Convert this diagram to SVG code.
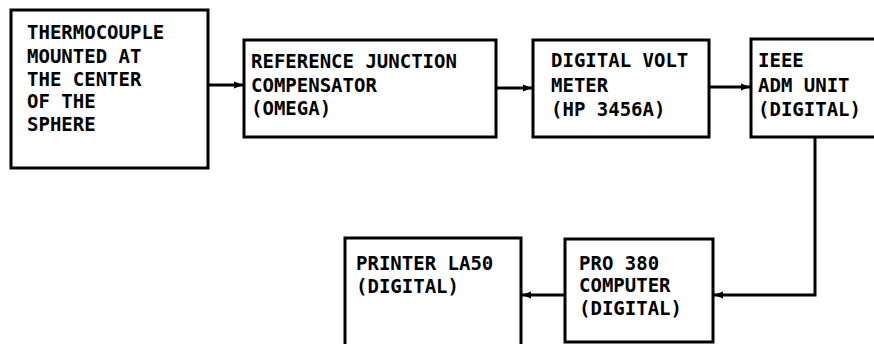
<svg xmlns="http://www.w3.org/2000/svg" width="874" height="344" viewBox="0 0 874 344">
<style>
.box{fill:#fff;stroke:#000;stroke-width:3}
.t{font-family:"DejaVu Sans Mono","Liberation Mono",monospace;font-weight:bold;font-size:19px;fill:#000}
.c{fill:none;stroke:#000;stroke-width:3}
</style>
<defs>
<marker id="ah" markerUnits="userSpaceOnUse" markerWidth="10" markerHeight="10" refX="9" refY="5" orient="auto">
<path d="M0,1.5 L9,5 L0,8.5 Z" fill="#000"/>
</marker>
</defs>
<rect width="874" height="344" fill="#fff"/>
<g id="connectors">
<path class="c" d="M208,85 H243" marker-end="url(#ah)"/>
<path class="c" d="M496,88 H532" marker-end="url(#ah)"/>
<path class="c" d="M709,87 H750" marker-end="url(#ah)"/>
<path class="c" d="M815,137 V295 H714" marker-end="url(#ah)"/>
<path class="c" d="M565,295 H522" marker-end="url(#ah)"/>
</g>
<g id="thermocouple">
<rect class="box" x="11" y="10" width="197" height="158"/>
<text class="t" x="27" y="39">THERMOCOUPLE</text>
<text class="t" x="27" y="63">MOUNTED AT</text>
<text class="t" x="27" y="86">THE CENTER</text>
<text class="t" x="27" y="108">OF THE</text>
<text class="t" x="27" y="131">SPHERE</text>
</g>
<g id="compensator">
<rect class="box" x="244" y="40" width="252" height="97"/>
<text class="t" x="251" y="68">REFERENCE JUNCTION</text>
<text class="t" x="251" y="92">COMPENSATOR</text>
<text class="t" x="251" y="115">(OMEGA)</text>
</g>
<g id="voltmeter">
<rect class="box" x="533" y="40" width="176" height="97"/>
<text class="t" x="551" y="67">DIGITAL VOLT</text>
<text class="t" x="551" y="92">METER</text>
<text class="t" x="551" y="116">(HP 3456A)</text>
</g>
<g id="adm">
<rect class="box" x="751" y="39" width="140" height="98"/>
<text class="t" x="758" y="67">IEEE</text>
<text class="t" x="758" y="92">ADM UNIT</text>
<text class="t" x="758" y="116">(DIGITAL)</text>
</g>
<g id="computer">
<rect class="box" x="565" y="239" width="148" height="103"/>
<text class="t" x="579" y="270">PRO 380</text>
<text class="t" x="579" y="292">COMPUTER</text>
<text class="t" x="579" y="315">(DIGITAL)</text>
</g>
<g id="printer">
<rect class="box" x="345" y="238" width="176" height="120"/>
<text class="t" x="356" y="270">PRINTER LA50</text>
<text class="t" x="356" y="293">(DIGITAL)</text>
</g>
</svg>
